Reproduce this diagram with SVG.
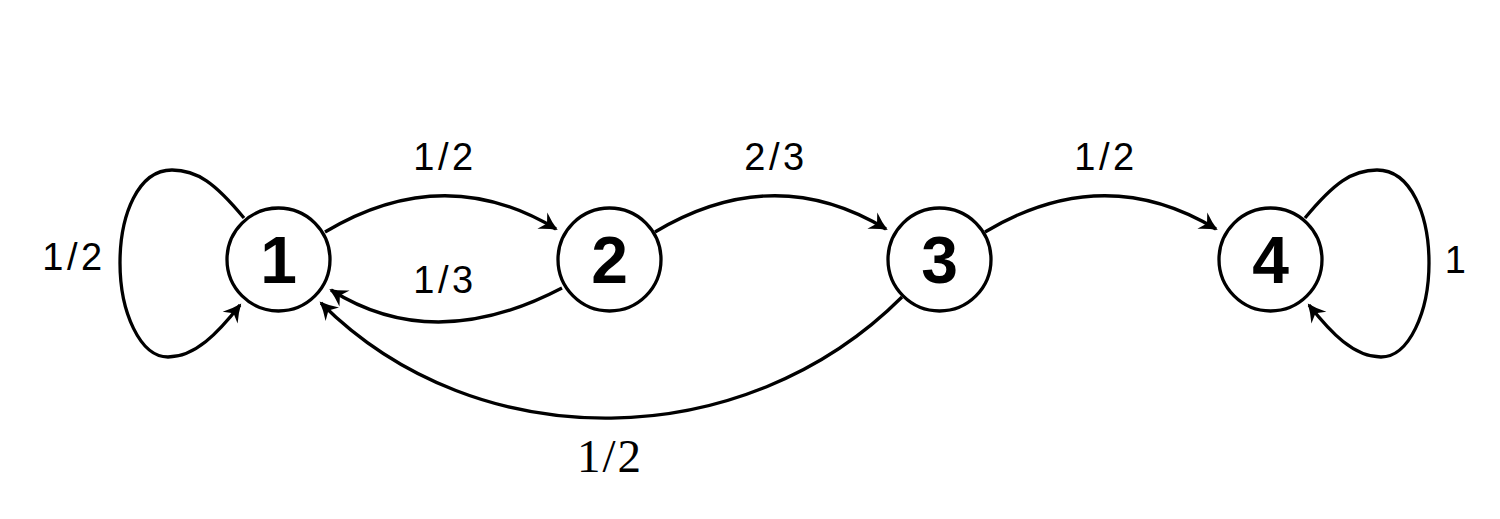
<svg xmlns="http://www.w3.org/2000/svg" width="1500" height="519" viewBox="0 0 1500 519">
<style>
.node circle{fill:#fff;stroke:#000;stroke-width:3.3}
.node text{font-family:"Liberation Sans",Arial,sans-serif;font-weight:bold;font-size:66px;text-anchor:middle;fill:#000}
.edge{fill:none;stroke:#000;stroke-width:3.3;marker-end:url(#arr)}
.lbl{font-family:"Liberation Sans",Arial,sans-serif;font-size:38px;letter-spacing:3.5px;text-anchor:middle;fill:#000}
.lbls{font-family:"Liberation Serif","Times New Roman",serif;font-size:47px;letter-spacing:2px;text-anchor:middle;fill:#000}
</style>
<defs>
<marker id="arr" markerUnits="userSpaceOnUse" orient="auto" markerWidth="26" markerHeight="26" viewBox="-22 -13 26 26" refX="0" refY="0" overflow="visible">
<path d="M2,0 Q-7,-3.5 -16,-9.5 L-10.5,0 L-16,9.5 Q-7,3.5 2,0 Z" fill="#000"/>
</marker>
</defs>
<rect width="1500" height="519" fill="#fff"/>
<g id="connectors">
<path class="edge" d="M244,218 C215,183 197,170 172,170 C138,170 120,215 120,263 C120,312 140,357 168,357 C195,357 218,333 240,305"/>
<path class="edge" d="M1305,218 C1334,183 1352,170 1377,170 C1411,170 1429,215 1429,263 C1429,312 1409,357 1381,357 C1354,357 1331,333 1309,305"/>
<path class="edge" d="M325,232 Q444,161 556,229"/>
<path class="edge" d="M562,288 Q434,355 331,290"/>
<path class="edge" d="M655,232 Q774,161 886,229"/>
<path class="edge" d="M985,232 Q1104,161 1216,229"/>
<path class="edge" d="M902,297 C744,455 478,460 321,303"/>
</g>
<g id="labels">
<text class="lbl" x="74" y="270">1/2</text>
<text class="lbl" x="445" y="170">1/2</text>
<text class="lbl" x="445" y="293">1/3</text>
<text class="lbl" x="776" y="170">2/3</text>
<text class="lbl" x="1106" y="170">1/2</text>
<text class="lbl" x="1457" y="273">1</text>
<text class="lbls" x="610" y="472">1/2</text>
</g>
<g id="node1" class="node"><circle cx="278.5" cy="259.5" r="51.5"/><text x="278.5" y="283">1</text></g>
<g id="node2" class="node"><circle cx="609.5" cy="259.5" r="51.5"/><text x="609.5" y="283">2</text></g>
<g id="node3" class="node"><circle cx="939.5" cy="259.5" r="51.5"/><text x="939.5" y="283">3</text></g>
<g id="node4" class="node"><circle cx="1270.5" cy="259.5" r="51.5"/><text x="1270.5" y="283">4</text></g>
</svg>
